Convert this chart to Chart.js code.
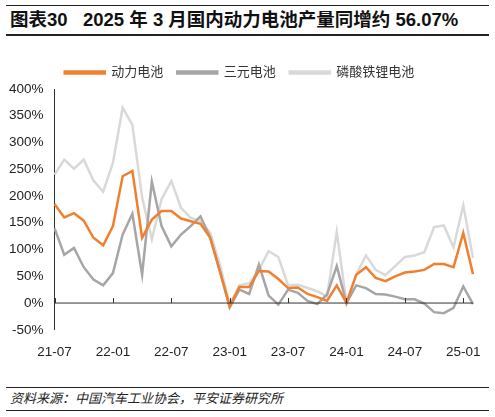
<!DOCTYPE html>
<html><head><meta charset="utf-8">
<script src="https://cdn.jsdelivr.net/npm/chart.js@4"></script>
<style>
body{margin:0;width:495px;height:417px;background:#fff;font-family:"Liberation Sans","Noto Sans CJK SC",sans-serif;position:relative;overflow:hidden}
#t{position:absolute;left:6px;right:6px;top:5px;height:28px;border-top:1.5px solid #222;border-bottom:2px solid #222;font-weight:bold;font-size:18.5px;line-height:28px;color:#111;padding-left:4px;white-space:nowrap}
#s{position:absolute;left:6px;right:6px;top:387px;height:22px;border-top:1.5px solid #222;border-bottom:1.5px solid #222;font-style:italic;font-size:13px;line-height:22px;color:#222;padding-left:4px}
#wrap{position:absolute;left:0;top:52px;width:495px;height:318px}
</style></head><body>
<div id="t">图表30&nbsp;&nbsp;&nbsp;2025 年 3 月国内动力电池产量同增约 56.07%</div>
<div id="wrap"><canvas id="c"></canvas></div>
<div id="s">资料来源：中国汽车工业协会，平安证券研究所</div>
<script>
const months=["21-07","21-08","21-09","21-10","21-11","21-12","22-01","22-02","22-03","22-04","22-05","22-06","22-07","22-08","22-09","22-10","22-11","22-12","23-01","23-02","23-03","23-04","23-05","23-06","23-07","23-08","23-09","23-10","23-11","23-12","24-01","24-02","24-03","24-04","24-05","24-06","24-07","24-08","24-09","24-10","24-11","24-12","25-01","25-02"];
const power=[185,160,168,154,122,108,144,237,247,122,156,172,172,158,153,148,122,59,-6,30,30,60,59,45,28,29,17,11,4,33,0,53,67,47,41,50,57,59,62,73,73,67,131,54];
const ternary=[140,90,103,67,44,33,56,128,167,53,227,144,106,128,144,162,122,59,-8,25,17,72,14,-3,25,19,4,-2,16,69,0,33,28,17,16,12,7,7,-1,-17,-19,-9,31,-2];
const lfp=[240,268,251,268,229,208,262,365,333,197,119,194,228,178,159,153,131,72,-3,33,37,62,97,86,33,34,28,22,12,133,0,53,89,62,52,69,86,89,95,142,145,104,183,84];
const yTicks=[-50,0,50,100,150,200,250,300,350,400];
const zeroLine={id:'zl',afterDatasetsDraw(ch){const {ctx,scales:{x,y}}=ch;const y0=y.getPixelForValue(0);ctx.save();ctx.strokeStyle='#333';ctx.lineWidth=1;ctx.beginPath();ctx.moveTo(x.left,y0);ctx.lineTo(x.right,y0);for(let i=0;i<months.length;i+=6){const px=Math.round(x.getPixelForValue(i))+0.5;ctx.moveTo(px,y0);ctx.lineTo(px,y0-5);}ctx.stroke();ctx.restore();}};
Chart.defaults.font.family='"Liberation Sans","Noto Sans CJK SC",sans-serif';
new Chart(document.getElementById('c'),{type:'line',
data:{labels:months,datasets:[
{label:'动力电池',data:power,borderColor:'#f08030',backgroundColor:'#f08030',order:1},
{label:'三元电池',data:ternary,borderColor:'#a6a6a6',backgroundColor:'#a6a6a6',order:2},
{label:'磷酸铁锂电池',data:lfp,borderColor:'#d9d9d9',backgroundColor:'#d9d9d9',order:3}]},
options:{responsive:true,maintainAspectRatio:false,animation:false,
layout:{padding:{left:6,right:22,top:0,bottom:4}},
elements:{point:{radius:0},line:{borderWidth:2.5,tension:0}},
plugins:{legend:{labels:{boxWidth:40,boxHeight:2,color:'#333',font:{size:13},padding:14}},tooltip:{enabled:false}},
scales:{
x:{grid:{display:false},border:{display:false},ticks:{autoSkip:false,maxRotation:0,color:'#222',font:{size:13.5},padding:6,callback:(v,i)=>i%6===0?months[i]:''}},
y:{min:-50,max:400,afterBuildTicks:s=>{s.ticks=yTicks.map(v=>({value:v}));},grid:{display:false,drawTicks:true},border:{display:true,color:'#333'},ticks:{color:'#222',font:{size:13.5},callback:v=>v+'%'}}}},
plugins:[zeroLine]});
</script></body></html>
